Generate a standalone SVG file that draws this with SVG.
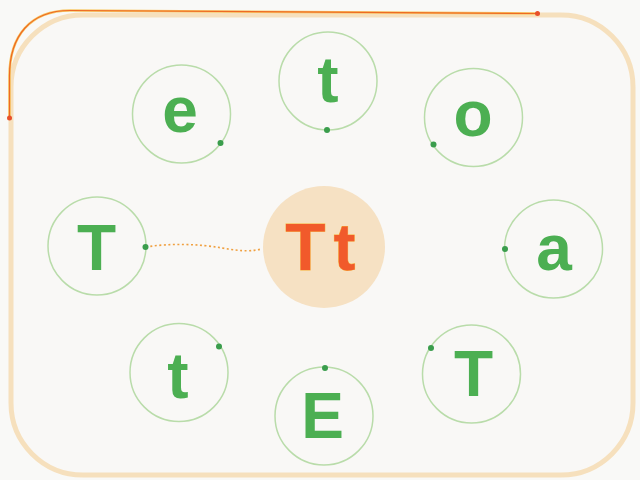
<svg xmlns="http://www.w3.org/2000/svg" width="640" height="480" viewBox="0 0 640 480">
  <style>
    .ring { fill: none; stroke: #b9dcaa; stroke-width: 1.5; }
    .dot { fill: #3a9d4c; }
    .lt { font-family: "Liberation Sans", Arial, sans-serif; font-weight: bold; font-size: 64px; fill: #4caf52; text-anchor: middle; }
    .ctr { font-family: "Liberation Sans", Arial, sans-serif; font-weight: bold; font-size: 66px; fill: #f15a2b; text-anchor: middle; stroke: #f7b23a; stroke-width: 0.8; paint-order: stroke; }
  </style>
  <rect x="0" y="0" width="640" height="480" fill="#f9f9f7"/>
  <g id="frame">
    <rect x="11" y="15" width="622" height="460" rx="72" ry="72" fill="#f9f8f6" stroke="#f6e0bd" stroke-width="5"/>
    <path d="M537.5,13.5 L70,10.5 C30,10.5 9.5,36 9.5,76 L9.5,118" fill="none" stroke="#f8c865" stroke-width="2.6"/>
    <path d="M537.5,13.5 L70,10.5 C30,10.5 9.5,36 9.5,76 L9.5,118" fill="none" stroke="#ee6a24" stroke-width="1.2"/>
    <circle cx="537.5" cy="13.5" r="2.5" fill="#e8502a"/>
    <circle cx="9.5" cy="118" r="2.5" fill="#e8502a"/>
  </g>
  <g id="connectors">
    <path d="M146,247 C170,243 200,244 222,248 S252,251 262,249" fill="none" stroke="#f0a040" stroke-width="1.6" stroke-dasharray="2 2.5"/>
  </g>
  <g id="node-center">
    <circle cx="324" cy="247" r="61" fill="#f6e1c3"/>
    <text class="ctr" y="270"><tspan x="305.5">T</tspan><tspan x="344.5">t</tspan></text>
  </g>
  <g id="node-e">
    <circle class="ring" cx="181.5" cy="114" r="49"/>
    <circle class="dot" cx="220.5" cy="143" r="3"/>
    <text class="lt" x="180" y="132">e</text>
  </g>
  <g id="node-t-top">
    <circle class="ring" cx="328" cy="81" r="49"/>
    <circle class="dot" cx="327" cy="130" r="3"/>
    <text class="lt" x="328" y="102">t</text>
  </g>
  <g id="node-o">
    <circle class="ring" cx="473.5" cy="117.5" r="49"/>
    <circle class="dot" cx="433.5" cy="144.5" r="3"/>
    <text class="lt" x="473" y="136">o</text>
  </g>
  <g id="node-T-left">
    <circle class="ring" cx="97" cy="246" r="49"/>
    <circle class="dot" cx="145.5" cy="247" r="3"/>
    <text class="lt" x="96.5" y="270">T</text>
  </g>
  <g id="node-a">
    <circle class="ring" cx="553.5" cy="249" r="49"/>
    <circle class="dot" cx="505" cy="249" r="3"/>
    <text class="lt" x="554" y="270">a</text>
  </g>
  <g id="node-t-bottom">
    <circle class="ring" cx="179" cy="372.5" r="49"/>
    <circle class="dot" cx="219" cy="346.5" r="3"/>
    <text class="lt" x="178" y="398">t</text>
  </g>
  <g id="node-E">
    <circle class="ring" cx="324" cy="416" r="49"/>
    <circle class="dot" cx="325" cy="368" r="3"/>
    <text class="lt" x="322.5" y="438">E</text>
  </g>
  <g id="node-T-right">
    <circle class="ring" cx="471.5" cy="374" r="49"/>
    <circle class="dot" cx="431" cy="348" r="3"/>
    <text class="lt" x="473.5" y="396">T</text>
  </g>
</svg>
